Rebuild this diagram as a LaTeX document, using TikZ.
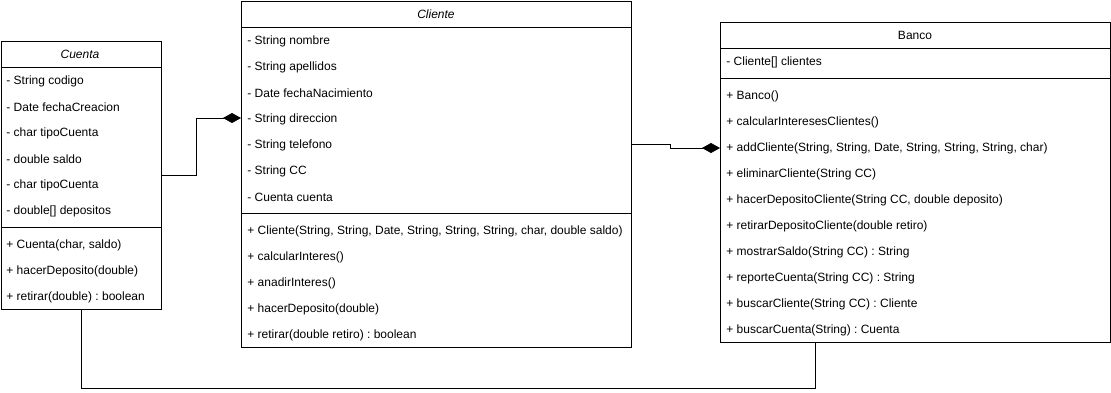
\documentclass[tikz,border=0pt]{standalone}
\usepackage{fontspec}
\setmainfont{Liberation Sans}
\usetikzlibrary{arrows.meta}
\frenchspacing

\begin{document}
\begin{tikzpicture}[x=1pt, y=-1pt, line width=0.8pt,
    classbox/.style={draw, anchor=north west, inner sep=0pt, minimum width=#1},
    member/.style={anchor=west, inner sep=0pt, font=\fontsize{12}{14}\selectfont},
    classname/.style={inner sep=0pt, font=\fontsize{12}{14}\selectfont},
    composition/.style={-{Diamond[length=18pt, width=10pt]}}]
    \useasboundingbox (0,0) rectangle (1111,392);

    % Cuenta
    \node[classbox=160, minimum height=268] (cuenta) at (0.5,41) {};
    \node[classname, font=\fontsize{12}{14}\selectfont\itshape] (cuentaname) at (80,54) {Cuenta};
    \draw (0.5,67) -- (160.5,67);
    \draw (0.5,227) -- (160.5,227);
    \foreach \t [count=\i] in {- String codigo, - Date fechaCreacion, - char tipoCuenta,
        - double saldo, - char tipoCuenta, {- double[] depositos}}
        \node[member] (cua\i) at (6,55+26*\i) {\t};
    \foreach \t [count=\i] in {{+ Cuenta(char, saldo)}, + hacerDeposito(double),
        + retirar(double) : boolean}
        \node[member] (cum\i) at (6,219+26*\i) {\t};

    % Cliente
    \node[classbox=390, minimum height=346] (cliente) at (241,1) {};
    \node[classname, font=\fontsize{12}{14}\selectfont\itshape] (clientename) at (436,14) {Cliente};
    \draw (241,27) -- (631,27);
    \draw (241,213) -- (631,213);
    \foreach \t [count=\i] in {- String nombre, - String apellidos, - Date fechaNacimiento,
        - String direccion, - String telefono, - String CC, - Cuenta cuenta}
        \node[member] (cla\i) at (247,15+26*\i) {\t};
    \foreach \t [count=\i] in {{+ Cliente(String, String, Date, String, String, String, char, double saldo)},
        + calcularInteres(), + anadirInteres(), + hacerDeposito(double),
        + retirar(double retiro) : boolean}
        \node[member] (clm\i) at (247,205+26*\i) {\t};

    % Banco
    \node[classbox=390, minimum height=320] (banco) at (720,22) {};
    \node[classname] (banconame) at (915,35) {Banco};
    \draw (720,48) -- (1110,48);
    \draw (720,78) -- (1110,78);
    \node[member] (baa1) at (726,62) {- Cliente[] clientes};
    \foreach \t [count=\i] in {+ Banco(), + calcularInteresesClientes(),
        {+ addCliente(String, String, Date, String, String, String, char)},
        + eliminarCliente(String CC), {+ hacerDepositoCliente(String CC, double deposito)},
        + retirarDepositoCliente(double retiro), + mostrarSaldo(String CC) : String,
        + reporteCuenta(String CC) : String, + buscarCliente(String CC) : Cliente,
        + buscarCuenta(String) : Cuenta}
        \node[member] (bam\i) at (726,70+26*\i) {\t};
    \coordinate (bancoin) at ([xshift=95pt]banco.south west);

    % relaciones
    \draw[composition] (cuenta.east) -- ++(35,0) |- ([yshift=1pt]cliente.west |- cla4);
    \draw[composition] ([yshift=1pt]cliente.east |- cla5) -- ++(39,0) |- (banco.west |- bam3);
    \draw (cuenta.south) -- ++(0,79) -| (bancoin);
\end{tikzpicture}
\end{document}
